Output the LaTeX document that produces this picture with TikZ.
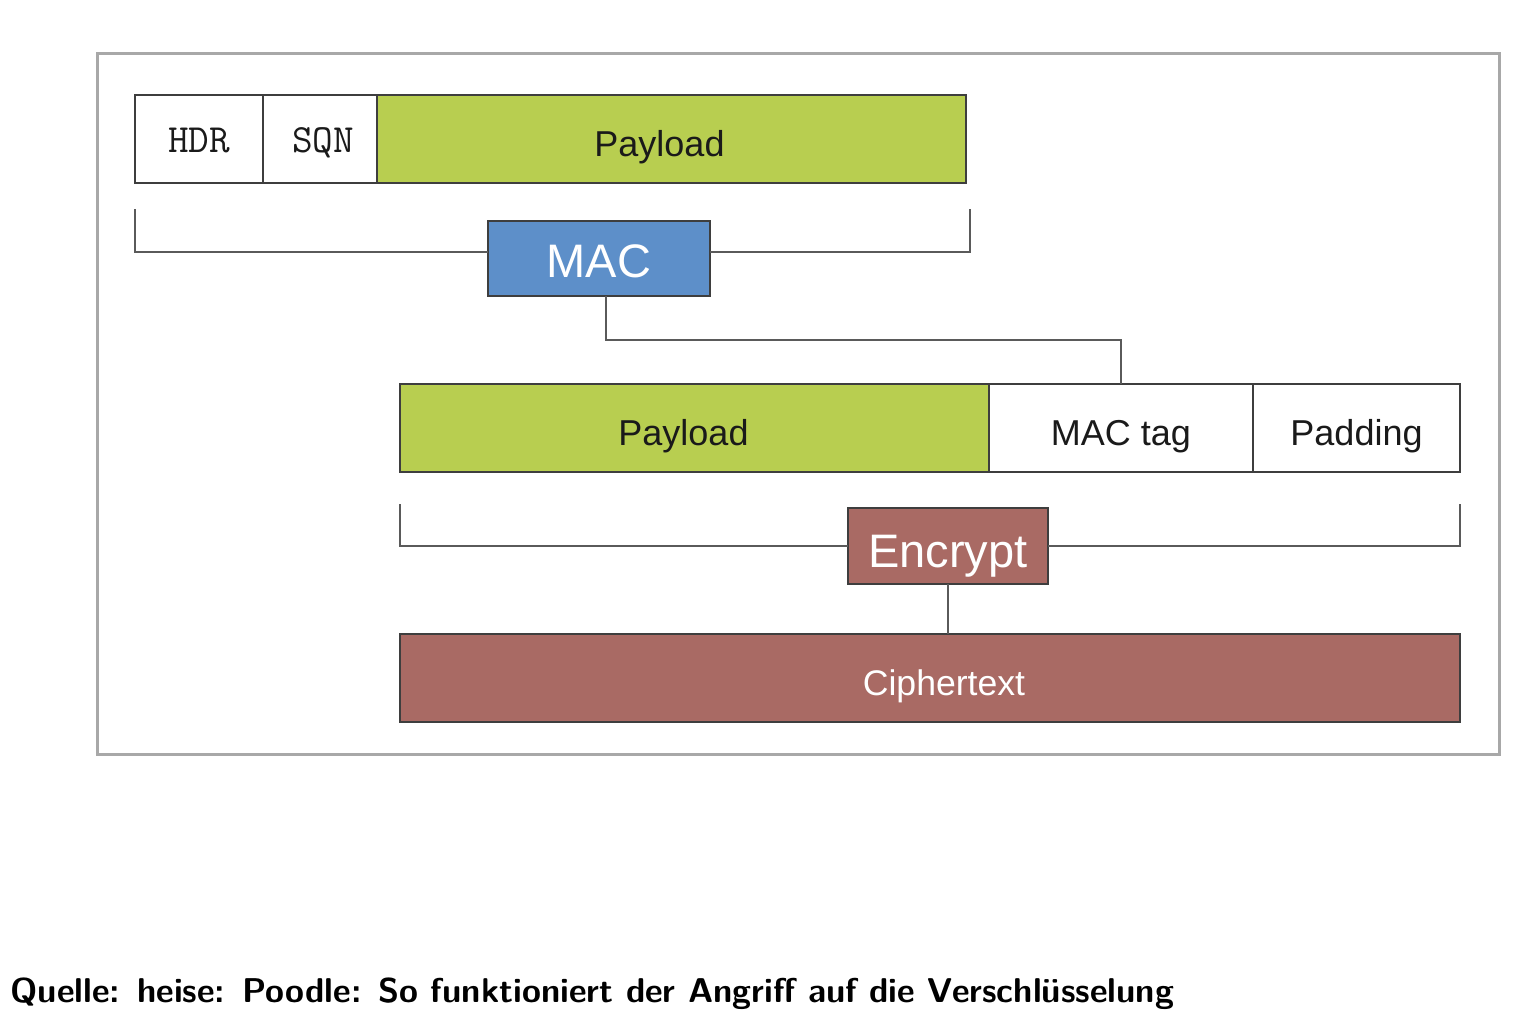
\documentclass[tikz,border=0pt]{standalone}
\usepackage{fontspec}
\setmainfont{Liberation Sans}
\usetikzlibrary{calc}
\definecolor{paygreen}{HTML}{B8CE50}
\definecolor{macblue}{HTML}{5D8FC9}
\definecolor{encred}{HTML}{A96A64}
\definecolor{edgegray}{HTML}{3E3E3E}
\definecolor{linegray}{HTML}{5A5A5A}
\definecolor{framegray}{HTML}{A8A8A8}
\definecolor{txt}{HTML}{1A1A1A}
\tikzset{
  field/.style={draw=edgegray, line width=1.4pt, inner sep=0pt, outer sep=0pt, text=txt,
    font=\fontsize{18}{20}\selectfont, text height=17pt, text depth=0pt},
  wfield/.style={field, fill=white},
  gfield/.style={field, fill=paygreen},
  monofield/.style={wfield, font=\ttfamily\fontsize{20}{22}\selectfont, text height=13pt, text depth=0pt},
  bigbox/.style={draw=edgegray, line width=1.4pt, inner sep=0pt, outer sep=0pt, text=white,
    font=\fontsize{23.5}{26}\selectfont, text height=20pt, text depth=0pt},
  conn/.style={draw=linegray, line width=1.4pt},
}
\begin{document}
\begin{tikzpicture}[x=0.5pt, y=-0.5pt]
\useasboundingbox (0,0) rectangle (1536,1028);
\fill[white] (0,0) rectangle (1536,1028);
% outer frame
\draw[framegray, line width=1.5pt] (97,53) rectangle (1499,754);
% top row
\node[monofield, minimum width=64pt, minimum height=44pt] (hdr) at (199,139) {HDR};
\node[monofield, minimum width=57pt, minimum height=44pt] (sqn) at (320,139) {\hspace*{3pt}SQN};
\node[gfield, minimum width=294.5pt, minimum height=44pt] (pay1) at (671.5,139) {\hspace*{-12pt}Payload};
% MAC
\node[bigbox, fill=macblue, minimum width=111pt, minimum height=37.5pt, text height=19pt] (mac) at (599,258.5) {MAC};
\coordinate (b1l) at (135,209);
\coordinate (b1r) at (970,209);
\coordinate (b1lh) at (135,252);
\coordinate (b1rh) at (970,252);
\draw[conn] (b1l) -- (b1lh) -- (b1lh -| mac.west);
\draw[conn] (b1r) -- (b1rh) -- (b1rh -| mac.east);
% second row
\node[gfield, minimum width=294.5pt, minimum height=44pt] (pay2) at (694.5,428) {\hspace*{-11pt}Payload};
\node[wfield, minimum width=132pt, minimum height=44pt] (tag) at (1121,428) {MAC tag};
\node[wfield, minimum width=103.5pt, minimum height=44pt] (pad) at (1356.5,428) {Padding};
\coordinate (macout) at (606,296);
\draw[conn] (macout) -- ++(0,44) -| (tag.north);
% encrypt
\node[bigbox, fill=encred, minimum width=100pt, minimum height=38pt, text height=21pt] (enc) at (948,546) {Encrypt};
\coordinate (b2l) at (400,504);
\coordinate (b2r) at (1460,504);
\draw[conn] (b2l) |- (enc.west);
\draw[conn] (b2r) |- (enc.east);
% ciphertext
\node[bigbox, fill=encred, minimum width=530pt, minimum height=44pt, font=\fontsize{17.8}{20}\selectfont, text height=17pt] (ciph) at (930,678) {\hspace*{14pt}Ciphertext};
\draw[conn] (enc.south) -- (enc.south |- ciph.north);
% caption
\node[anchor=base west, inner sep=0pt, font=\sffamily\bfseries\fontsize{17.2}{21}\selectfont] (cap) at (10,1002) {Quelle: heise: Poodle: So funktioniert der Angriff auf die Verschlüsselung};
\end{tikzpicture}
\end{document}
